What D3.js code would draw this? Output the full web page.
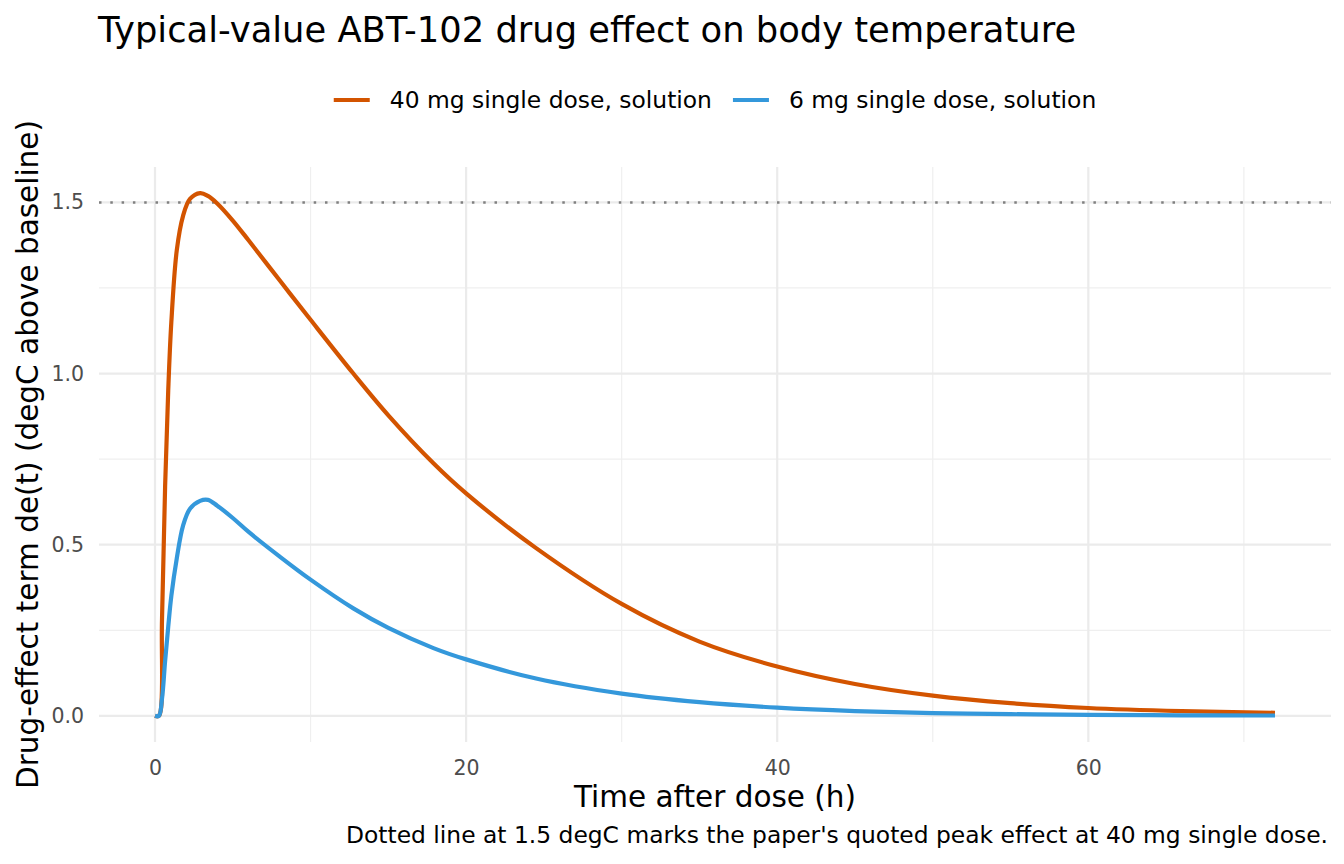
<!DOCTYPE html>
<html>
<head>
<meta charset="utf-8">
<script src="https://cdn.jsdelivr.net/npm/d3@7"></script>
<style>
  body { margin: 0; background: #fff; }
  text { font-family: "DejaVu Sans", sans-serif; }
</style>
</head>
<body>
<div id="chart"></div>
<script>
// time grid (h) and effect values
const timeH = [0, 0.25, 0.45, 0.65, 0.85, 1.05, 1.4, 1.8, 2.25, 2.9, 3.4, 4, 5, 6, 8, 10, 12.75, 15, 17.9, 20, 24.5, 30, 35, 40, 45, 50, 55, 60, 66, 72];
const effect40 = [0, 0, 0.28, 0.67, 0.95, 1.15, 1.36, 1.46, 1.51, 1.527, 1.519, 1.497, 1.447, 1.39, 1.273, 1.157, 1.0, 0.878, 0.738, 0.65, 0.49, 0.327, 0.217, 0.144, 0.093, 0.059, 0.037, 0.023, 0.014, 0.009];
const effect6 = [0, 0, 0.05, 0.16, 0.26, 0.35, 0.46, 0.555, 0.605, 0.628, 0.631, 0.614, 0.578, 0.538, 0.466, 0.398, 0.314, 0.257, 0.198, 0.165, 0.109, 0.065, 0.04, 0.024, 0.014, 0.008, 0.005, 0.003, 0.0015, 0.001];
const seriesNames = ["40 mg single dose, solution", "6 mg single dose, solution"];
const seriesColors = ["#D35400", "#3498DB"];
const xTicks = [0, 20, 40, 60];
const xMinor = [10, 30, 50, 70];
const yTicks = [0, 0.5, 1.0, 1.5];
const yMinor = [0.25, 0.75, 1.25];
const refLine = 1.5;

const W = 1344, H = 864;
const margin = { top: 167, right: 13, bottom: 122, left: 99 };

const svg = d3.select("#chart").append("svg")
  .attr("width", W)
  .attr("height", H);

// ggplot style 5% expansion
const xExt = d3.extent(timeH);
const xPad = (xExt[1] - xExt[0]) * 0.05;
const yMax = d3.max(effect40.concat(effect6));
const yPad = yMax * 0.05;

const x = d3.scaleLinear()
  .domain([xExt[0] - xPad, xExt[1] + xPad])
  .range([margin.left, W - margin.right]);
const y = d3.scaleLinear()
  .domain([0 - yPad, yMax + yPad])
  .range([H - margin.bottom, margin.top]);

const grid = svg.append("g");
grid.selectAll(".xmin").data(xMinor).enter().append("line")
  .attr("x1", d => x(d)).attr("x2", d => x(d))
  .attr("y1", y.range()[0]).attr("y2", y.range()[1])
  .style("stroke", "#EFEFEF").style("stroke-width", 1.2);
grid.selectAll(".ymin").data(yMinor).enter().append("line")
  .attr("x1", x.range()[0]).attr("x2", x.range()[1])
  .attr("y1", d => y(d)).attr("y2", d => y(d))
  .style("stroke", "#EFEFEF").style("stroke-width", 1.2);
grid.selectAll(".xmaj").data(xTicks).enter().append("line")
  .attr("x1", d => x(d)).attr("x2", d => x(d))
  .attr("y1", y.range()[0]).attr("y2", y.range()[1])
  .style("stroke", "#EBEBEB").style("stroke-width", 2.2);
grid.selectAll(".ymaj").data(yTicks).enter().append("line")
  .attr("x1", x.range()[0]).attr("x2", x.range()[1])
  .attr("y1", d => y(d)).attr("y2", d => y(d))
  .style("stroke", "#EBEBEB").style("stroke-width", 2.2);

// dotted reference line
svg.append("line")
  .attr("x1", x.range()[0]).attr("x2", x.range()[1])
  .attr("y1", y(refLine)).attr("y2", y(refLine))
  .style("stroke", "#808080")
  .style("stroke-width", 2.5)
  .style("stroke-dasharray", "2.5,8.8");

// curves
const line = d3.line()
  .x(d => x(d[0]))
  .y(d => y(d[1]))
  .curve(d3.curveCatmullRom.alpha(0.5));

[effect40, effect6].forEach((vals, i) => {
  svg.append("path")
    .datum(timeH.map((t, j) => [t, vals[j]]))
    .attr("d", line)
    .style("fill", "none")
    .style("stroke", seriesColors[i])
    .style("stroke-width", 4.2)
    .style("stroke-linejoin", "round");
});

// axes (labels only, like theme_minimal)
const xAxis = svg.append("g")
  .attr("transform", `translate(0, ${y.range()[0]})`)
  .call(d3.axisBottom(x).tickValues(xTicks).tickSize(0).tickPadding(18).tickFormat(d3.format("d")));
const yAxis = svg.append("g")
  .attr("transform", `translate(${x.range()[0]}, 0)`)
  .call(d3.axisLeft(y).tickValues(yTicks).tickSize(0).tickPadding(15).tickFormat(d3.format(".1f")));
[xAxis, yAxis].forEach(a => {
  a.select(".domain").remove();
  a.selectAll("text")
    .style("font-family", "DejaVu Sans, sans-serif")
    .style("font-size", "20.5px")
    .style("fill", "#4D4D4D");
});

// axis titles
svg.append("text")
  .attr("x", (x.range()[0] + x.range()[1]) / 2)
  .attr("y", 807)
  .attr("text-anchor", "middle")
  .style("font-size", "29.5px")
  .style("fill", "#000")
  .text("Time after dose (h)");

svg.append("text")
  .attr("transform", `translate(38, ${(y.range()[0] + y.range()[1]) / 2}) rotate(-90)`)
  .attr("text-anchor", "middle")
  .style("font-size", "29.5px")
  .style("fill", "#000")
  .text("Drug-effect term de(t) (degC above baseline)");

// title
svg.append("text")
  .attr("x", 98)
  .attr("y", 42)
  .style("font-size", "35.3px")
  .style("fill", "#000")
  .text("Typical-value ABT-102 drug effect on body temperature");

// legend
const legend = svg.append("g");
const items = legend.selectAll("g").data(seriesNames).enter().append("g");
items.append("line")
  .attr("x1", 0).attr("x2", 36)
  .attr("y1", 0).attr("y2", 0)
  .style("stroke", (d, i) => seriesColors[i])
  .style("stroke-width", 4.2);
items.append("text")
  .attr("x", 56)
  .attr("y", 8)
  .style("font-size", "23.4px")
  .style("fill", "#000")
  .text(d => d);
let off = 0;
items.each(function () {
  d3.select(this).attr("transform", `translate(${off}, 0)`);
  off += this.getBBox().width + 21;
});
const legW = off - 21;
legend.attr("transform", `translate(${(x.range()[0] + x.range()[1]) / 2 - legW / 2}, 100)`);

// caption
svg.append("text")
  .attr("x", 1328)
  .attr("y", 843)
  .attr("text-anchor", "end")
  .style("font-size", "23.4px")
  .style("fill", "#000")
  .text("Dotted line at 1.5 degC marks the paper's quoted peak effect at 40 mg single dose.");
</script>
</body>
</html>
